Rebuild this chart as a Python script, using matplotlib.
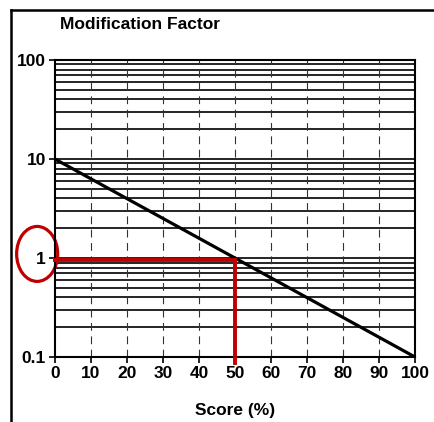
import numpy as np
import matplotlib
matplotlib.use('Agg')
import matplotlib.pyplot as plt
from matplotlib.patches import Ellipse
from matplotlib.lines import Line2D

plt.rcParams['font.family'] = 'Liberation Sans'
plt.rcParams['font.weight'] = 'bold'

# data
score = [0, 100]
factor = [10, 0.1]
red_x = [0, 50, 50]
red_y = [0.95, 0.95, 0.088]
x_ticks = [0, 10, 20, 30, 40, 50, 60, 70, 80, 90, 100]
y_ticks = [0.1, 1, 10, 100]
y_labels = ['0.1', '1', '10', '100']

fig = plt.figure(figsize=(4.35, 4.22), dpi=100)
ax = fig.add_axes([0.126, 0.154, 0.828, 0.704])

ax.set_yscale('log')
ax.set_xlim(0, 100)
ax.set_ylim(0.1, 100)

# horizontal grid at every minor position, dashed vertical grid
for dec in [0.1, 1, 10]:
	for m in range(1, 10):
		ax.axhline(dec * m, color='black', lw=1.2, zorder=1)
for x in x_ticks[1:-1]:
	ax.axvline(x, color='#333333', lw=0.8, ls=(0, (7, 5)), zorder=1)

ax.plot(score, factor, color='black', lw=2.3, zorder=3)
ax.plot(red_x, red_y, color='#C00000', lw=2.8, zorder=4, clip_on=False,
	solid_joinstyle='miter')

ax.set_xticks(x_ticks)
ax.set_yticks(y_ticks)
ax.set_yticklabels(y_labels)
ax.minorticks_off()
ax.tick_params(axis='both', labelsize=12.5, length=4, width=1.2, color='black', pad=2.5)
for s in ax.spines.values():
	s.set_linewidth(1.5)

ax.set_xlabel('Score (%)', fontsize=12.5, fontweight='bold', labelpad=16)
fig.text(0.138, 0.943, 'Modification Factor', fontsize=12.5, fontweight='bold', va='center')

# red circle around the "1" label
ell = Ellipse((-0.049, 0.347), 0.114, 0.185, transform=ax.transAxes, fill=False,
	edgecolor='#C00000', lw=2.3, clip_on=False)
ax.add_patch(ell)

# outer frame
fig.add_artist(Line2D([0.025, 0.025], [0.0, 0.976], color='black', lw=1.8))
fig.add_artist(Line2D([0.025, 1.0], [0.976, 0.976], color='black', lw=1.8))

plt.savefig('out.png', dpi=100)
plt.close()
